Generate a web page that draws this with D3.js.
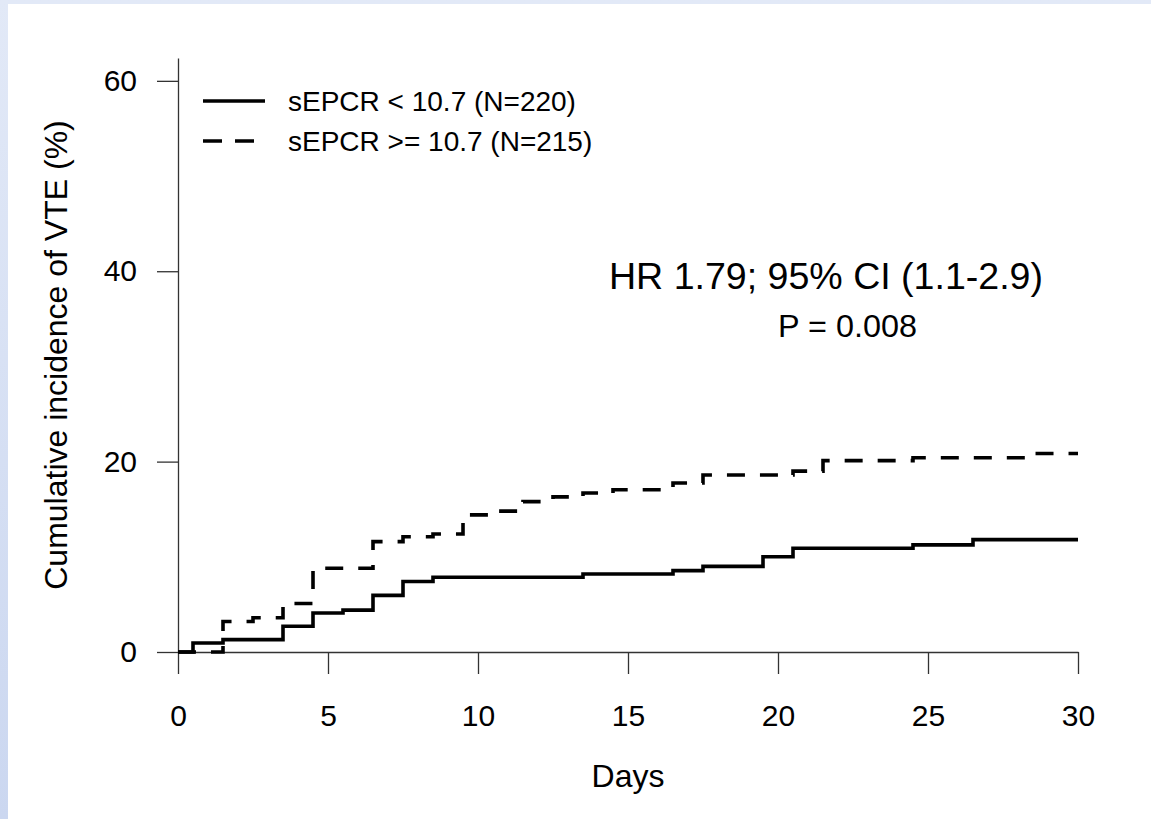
<!DOCTYPE html>
<html>
<head>
<meta charset="utf-8">
<script src="https://cdn.jsdelivr.net/npm/d3@7"></script>
<style>
  body { margin: 0; background: #fff; }
  svg { display: block; font-family: "Liberation Sans", Arial, sans-serif; }
</style>
</head>
<body>
<div id="vis"></div>
<script>
// data: [day, cumulative incidence %]
let lowDays  = [0, 0.5, 1.5, 3.5, 4.5, 5.5, 6.5, 7.5, 8.5, 13.5, 16.5, 17.5, 19.5, 20.5, 24.5, 26.5, 30];
let lowInc   = [0, 0.95, 1.3, 2.7, 4.1, 4.4, 5.95, 7.4, 7.85, 8.2, 8.55, 9.0, 10.0, 10.9, 11.25, 11.8, 11.8];
let highDays = [0, 1.5, 2.5, 3.5, 4.5, 6.5, 7.5, 8.5, 9.5, 10.5, 11.5, 12.5, 13.5, 14.5, 16.5, 17.5, 20.5, 21.5, 24.5, 28.5, 30];
let highInc  = [0, 3.2, 3.6, 5.1, 8.8, 11.6, 12.1, 12.4, 14.4, 14.8, 15.8, 16.3, 16.7, 17.05, 17.75, 18.6, 19.0, 20.1, 20.4, 20.85, 20.85];
let xTicks = [0, 5, 10, 15, 20, 25, 30];
let yTicks = [0, 20, 40, 60];
let legendLabels = ['sEPCR < 10.7 (N=220)', 'sEPCR >= 10.7 (N=215)'];

let W = 1151, H = 819;

let svg = d3.select('#vis')
  .append('svg')
    .attr('width', W)
    .attr('height', H);

// light blue frame on the left / top edge
let grad = svg.append('defs').append('linearGradient')
    .attr('id', 'edge')
    .attr('x1', 0).attr('y1', 0).attr('x2', 0).attr('y2', 1);
grad.append('stop').attr('offset', '0%').attr('stop-color', '#e2e9f7');
grad.append('stop').attr('offset', '100%').attr('stop-color', '#cbd7f0');
svg.append('rect').attr('width', W).attr('height', H).attr('fill', 'url(#edge)');
svg.append('rect').attr('x', 8).attr('y', 4).attr('width', W - 8).attr('height', H - 4).attr('fill', '#fff');

let x = d3.scaleLinear().domain([0, 30]).range([178, 1078]);
let y = d3.scaleLinear().domain([0, 62.4]).range([652, 58]);

// axes
let xAxis = svg.append('g')
    .attr('transform', 'translate(0,' + y(0) + ')')
    .call(d3.axisBottom(x).tickValues(xTicks).tickSize(22).tickSizeOuter(0).tickPadding(31));

let yAxis = svg.append('g')
    .attr('transform', 'translate(' + x(0) + ',0)')
    .call(d3.axisLeft(y).tickValues(yTicks).tickSize(21).tickSizeOuter(0).tickPadding(20));

[xAxis, yAxis].forEach(function(g) {
  g.selectAll('path, line').attr('stroke', '#333').attr('stroke-width', 1.3);
  g.selectAll('text').attr('fill', '#000').style('font-size', '30px')
    .style('font-family', '"Liberation Sans", Arial, sans-serif');
});

// axis titles
svg.append('text')
    .attr('x', x(15))
    .attr('y', 787)
    .attr('text-anchor', 'middle')
    .style('font-size', '32px')
    .text('Days');

svg.append('text')
    .attr('transform', 'translate(67,' + y(31.2) + ') rotate(-90)')
    .attr('text-anchor', 'middle')
    .style('font-size', '32px')
    .text('Cumulative incidence of VTE (%)');

// curves
let line = d3.line()
    .x(d => x(d[0]))
    .y(d => y(d[1]))
    .curve(d3.curveStepAfter);

svg.append('path')
    .datum(d3.zip(lowDays, lowInc))
    .attr('d', line)
    .attr('fill', 'none')
    .attr('stroke', '#000')
    .attr('stroke-width', 3.6);

svg.append('path')
    .datum(d3.zip(highDays, highInc))
    .attr('d', line)
    .attr('fill', 'none')
    .attr('stroke', '#000')
    .attr('stroke-width', 3.6)
    .attr('stroke-dasharray', '18,15');

// legend
let legend = svg.append('g').attr('transform', 'translate(203,101)');
legendLabels.forEach(function(lab, i) {
  legend.append('line')
      .attr('x1', 0).attr('x2', i == 0 ? 62 : 54)
      .attr('y1', i * 40).attr('y2', i * 40)
      .attr('stroke', '#000')
      .attr('stroke-width', 3.6)
      .attr('stroke-dasharray', i == 0 ? null : '19,13');
  legend.append('text')
      .attr('x', 85)
      .attr('y', i * 40 + 10)
      .style('font-size', '28px')
      .text(lab);
});

// annotation
svg.append('text')
    .attr('x', 609)
    .attr('y', 289)
    .style('font-size', '36px')
    .attr('textLength', 434)
    .attr('lengthAdjust', 'spacingAndGlyphs')
    .text('HR 1.79; 95% CI (1.1-2.9)');

svg.append('text')
    .attr('x', 778)
    .attr('y', 337)
    .style('font-size', '31px')
    .attr('textLength', 139)
    .attr('lengthAdjust', 'spacingAndGlyphs')
    .text('P = 0.008');
</script>
</body>
</html>
